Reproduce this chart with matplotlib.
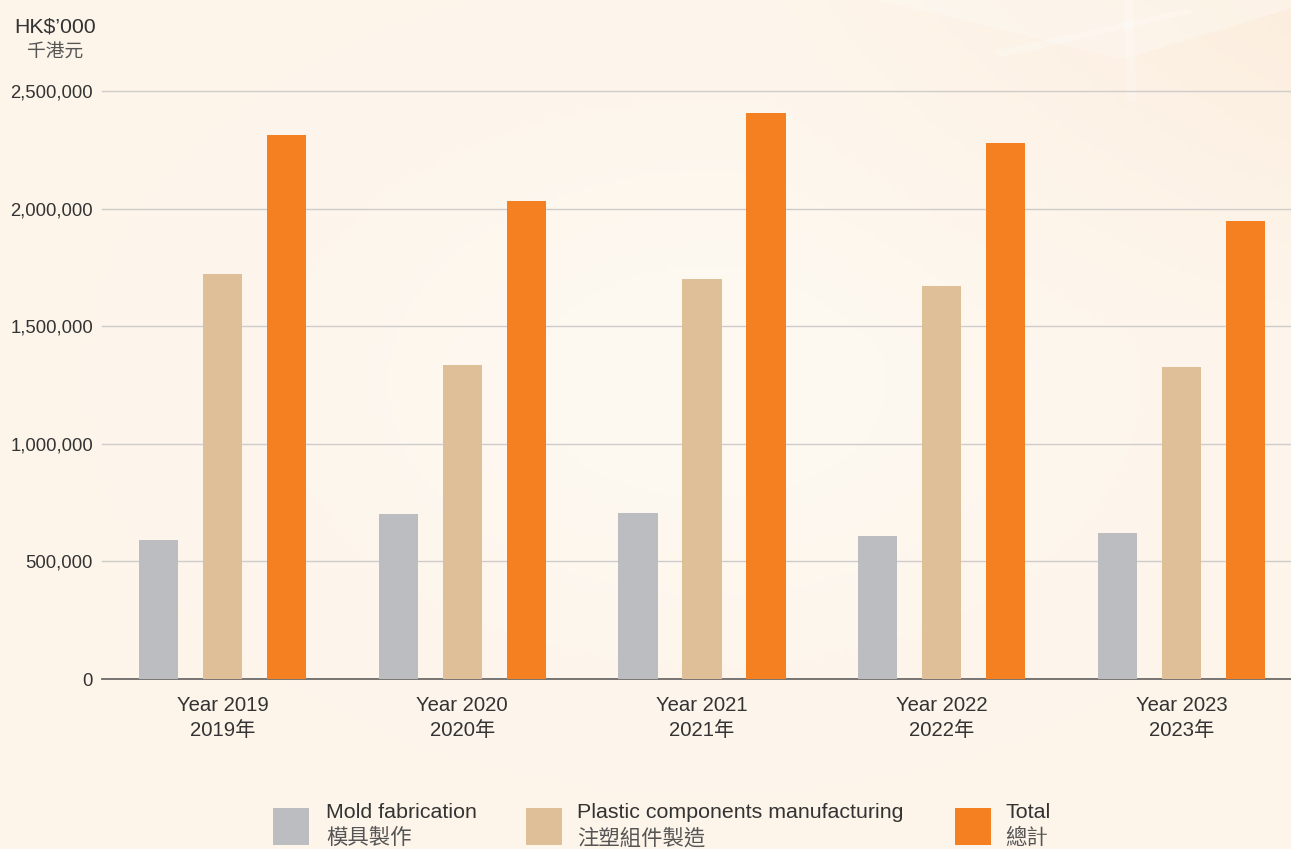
import numpy as np
import matplotlib.pyplot as plt
from matplotlib.patches import Rectangle, Polygon
from matplotlib.ticker import FuncFormatter

plt.rcParams['font.family'] = ['Liberation Sans', 'Noto Sans CJK TC', 'DejaVu Sans']

years = ["Year 2019\n2019年", "Year 2020\n2020年", "Year 2021\n2021年",
         "Year 2022\n2022年", "Year 2023\n2023年"]
mold = [591000, 702000, 706000, 608000, 621000]
plastic = [1722000, 1335000, 1701000, 1671000, 1327000]
total = [2313000, 2032000, 2406000, 2279000, 1947000]

series_names = ["Mold fabrication\n模具製作",
                "Plastic components manufacturing\n注塑組件製造",
                "Total\n總計"]
colors = ["#BCBDC1", "#DEBF98", "#F58022"]
yticks = [0, 500000, 1000000, 1500000, 2000000, 2500000]

W, H = 1291, 849
fig = plt.figure(figsize=(W / 100, H / 100), dpi=100)
fig.patch.set_facecolor("#FDF4EA")

# soft background: lighter glow in the middle, warmer at top right
bg = fig.add_axes([0, 0, 1, 1], zorder=-10)
yy, xx = np.mgrid[0:1:200j, 0:1:300j]
glow = np.exp(-(((xx - 0.55) / 0.35) ** 2 + ((yy - 0.55) / 0.35) ** 2))
warm = np.clip((xx - 0.6) * 2, 0, 1) * np.clip((yy - 0.6) * 2.5, 0, 1)
base = np.array([253, 244, 234]) / 255
light = np.array([254, 249, 241]) / 255
orng = np.array([252, 232, 210]) / 255
img = base[None, None, :] * (1 - glow[..., None]) + light[None, None, :] * glow[..., None]
img = img * (1 - 0.6 * warm[..., None]) + orng[None, None, :] * 0.6 * warm[..., None]
bg.imshow(img, extent=[0, 1, 0, 1], origin="lower", aspect="auto")
for pts in [[(0.68, 1.0), (0.87, 0.93), (1.0, 0.99), (1.0, 1.0)],
            [(0.87, 1.0), (0.873, 0.88), (0.88, 0.88), (0.878, 1.0)],
            [(0.77, 0.94), (0.92, 0.99), (0.925, 0.985), (0.775, 0.932)]]:
    bg.add_patch(Polygon(pts, closed=True, facecolor="white", alpha=0.25,
                         edgecolor="none", transform=bg.transAxes))
bg.set_xlim(0, 1)
bg.set_ylim(0, 1)
bg.axis("off")

ax = fig.add_axes([100 / W, 170 / H, 1 - 100 / W, 611.5 / H])
ax.set_facecolor("none")

x = np.arange(len(years))
bw = 0.163
off = 0.267
for i, vals in enumerate([mold, plastic, total]):
    ax.bar(x + (i - 1) * off, vals, width=bw, color=colors[i], zorder=3)

ax.set_xlim(-0.511, 4.457)
ax.set_ylim(0, 2600000)
ax.set_yticks(yticks)
ax.yaxis.set_major_formatter(FuncFormatter(lambda v, p: f"{int(v):,}"))
ax.set_xticks(x)
ax.set_xticklabels(years, fontsize=14.6, color="#333333", linespacing=1.45)
ax.tick_params(axis="y", length=0, pad=5, labelsize=13.3, labelcolor="#333333")
ax.tick_params(axis="x", length=0, pad=12)
for s in ["top", "right", "left"]:
    ax.spines[s].set_visible(False)
ax.spines["bottom"].set_color("#6d6a68")
ax.spines["bottom"].set_linewidth(1.3)
ax.spines["bottom"].set_bounds(-0.511 + 2 / 239.75, 4.457)
ax.set_axisbelow(True)
ax.grid(axis="y", color="#cfcccb", linewidth=1.0, zorder=0)
for gl in ax.get_ygridlines():
    gl.set_xdata([2 / (W - 100), 1])

fig.text(55 / W, 1 - 27 / H, "HK$’000", ha="center", va="center",
         fontsize=15.3, color="#333333")
fig.text(55 / W, 1 - 52 / H, "千港元", ha="center", va="center",
         fontsize=13.5, color="#555555")

# legend
leg_sq = [273, 526, 955]
leg_tx = [326, 577, 1005]
for i in range(3):
    fig.add_artist(Rectangle((leg_sq[i] / W, 1 - 845 / H), 36 / W, 37 / H,
                             facecolor=colors[i], edgecolor="none",
                             transform=fig.transFigure))
    en, zh = series_names[i].split("\n")
    fig.text(leg_tx[i] / W, 1 - 813 / H, en, ha="left", va="center",
             fontsize=15.4, color="#333333")
    fig.text(leg_tx[i] / W, 1 - 838 / H, zh, ha="left", va="center",
             fontsize=15.4, color="#555555")

fig.savefig("out.png", dpi=100, facecolor=fig.get_facecolor())
